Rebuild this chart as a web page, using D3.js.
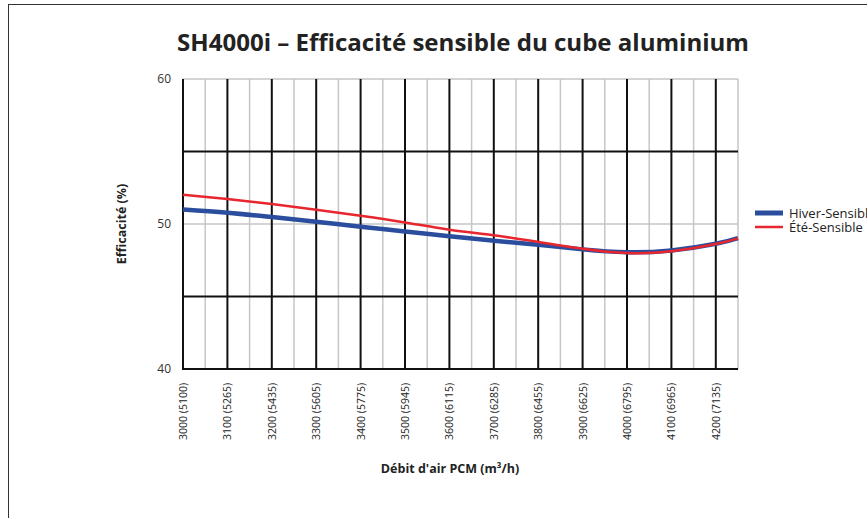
<!DOCTYPE html>
<html>
<head>
<meta charset="utf-8">
<script src="https://cdn.jsdelivr.net/npm/d3@7"></script>
<style>
  body { margin: 0; background: #fff; overflow: hidden; }
  svg { display: block; font-family: "Open Sans", "Liberation Sans", sans-serif; }
</style>
</head>
<body>
<svg id="chart" width="867" height="518"></svg>
<script>
// airflow (CFM) at which the curves were read, last point is the right edge of the plot
const flowCfm = [3000, 3100, 3200, 3300, 3400, 3500, 3600, 3700, 3800, 3900, 4000, 4100, 4200, 4250];
const hiverSensible = [51.0, 50.78, 50.48, 50.16, 49.81, 49.49, 49.15, 48.85, 48.57, 48.25, 48.05, 48.18, 48.64, 49.03];
const eteSensible  = [52.02, 51.72, 51.38, 50.99, 50.57, 50.11, 49.61, 49.22, 48.76, 48.30, 48.00, 48.12, 48.62, 49.01];
// tick labels: CFM (m3/h)
const tickCfm = [3000, 3100, 3200, 3300, 3400, 3500, 3600, 3700, 3800, 3900, 4000, 4100, 4200];
const tickM3h = [5100, 5265, 5435, 5605, 5775, 5945, 6115, 6285, 6455, 6625, 6795, 6965, 7135];
const yTicks = [40, 50, 60];
const seriesNames = ["Hiver-Sensible", "Été-Sensible"];
const seriesColors = ["#2b4d9e", "#e8262e"];

const svg = d3.select('#chart');

// outer frame (runs off the page on the right and bottom)
svg.append('rect')
  .attr('x', 8.5).attr('y', 4.5)
  .attr('width', 950).attr('height', 600)
  .style('fill', 'none')
  .style('stroke', '#333')
  .style('stroke-width', 1);

const x = d3.scaleLinear().domain([3000, 4250]).range([183, 738]);
const y = d3.scaleLinear().domain([40, 60]).range([369, 79]);

// light grid first
const gray = svg.append('g').attr('class', 'grid-minor');
gray.selectAll('line.v')
  .data(d3.range(3050, 4300, 100))
  .enter().append('line')
    .attr('x1', d => x(d)).attr('x2', d => x(d))
    .attr('y1', y(60)).attr('y2', y(40))
    .style('stroke', '#c6c6c6').style('stroke-width', 1.5);
gray.selectAll('line.h')
  .data([50, 60])
  .enter().append('line')
    .attr('x1', x(3000)).attr('x2', x(4250))
    .attr('y1', d => y(d)).attr('y2', d => y(d))
    .style('stroke', '#c6c6c6').style('stroke-width', 1.5);

// dark grid
const dark = svg.append('g').attr('class', 'grid-major');
dark.selectAll('line.v')
  .data(tickCfm)
  .enter().append('line')
    .attr('x1', d => x(d)).attr('x2', d => x(d))
    .attr('y1', y(60)).attr('y2', y(40))
    .style('stroke', '#111').style('stroke-width', 2);
dark.selectAll('line.h')
  .data([40, 45, 55])
  .enter().append('line')
    .attr('x1', x(3000) - 1).attr('x2', x(4250))
    .attr('y1', d => y(d)).attr('y2', d => y(d))
    .style('stroke', '#111').style('stroke-width', 2);

// y tick labels
svg.append('g')
  .selectAll('text')
  .data(yTicks)
  .enter().append('text')
    .attr('x', 171)
    .attr('y', d => y(d) + 4)
    .attr('text-anchor', 'end')
    .style('font-size', '12px')
    .style('fill', '#333')
    .text(d => d);

// x tick labels, rotated
svg.append('g')
  .selectAll('text')
  .data(tickCfm)
  .enter().append('text')
    .attr('transform', d => `translate(${x(d) + 4},383) rotate(-90)`)
    .attr('text-anchor', 'end')
    .style('font-size', '10.5px')
    .style('fill', '#222')
    .text((d, i) => `${d} (${tickM3h[i]})`);

// curves
const line = d3.line()
  .x((d, i) => x(flowCfm[i]))
  .y(d => y(d))
  .curve(d3.curveNatural);

svg.append('path')
  .datum(hiverSensible)
  .attr('d', line)
  .style('fill', 'none')
  .style('stroke', seriesColors[0])
  .style('stroke-width', 4.5);

svg.append('path')
  .datum(eteSensible)
  .attr('d', line)
  .style('fill', 'none')
  .style('stroke', seriesColors[1])
  .style('stroke-width', 2.5);

// titles
svg.append('text')
  .attr('x', 463).attr('y', 51)
  .attr('text-anchor', 'middle')
  .attr('textLength', 572)
  .attr('lengthAdjust', 'spacingAndGlyphs')
  .style('font-size', '24px')
  .style('font-weight', 'bold')
  .style('fill', '#222')
  .text('SH4000i \u2013 Efficacité sensible du cube aluminium');

svg.append('text')
  .attr('transform', 'translate(126,224) rotate(-90)')
  .attr('text-anchor', 'middle')
  .style('font-size', '12.5px')
  .style('font-weight', 'bold')
  .style('fill', '#222')
  .text('Efficacité (%)');

svg.append('text')
  .attr('x', 450).attr('y', 473)
  .attr('text-anchor', 'middle')
  .style('font-size', '12.5px')
  .style('font-weight', 'bold')
  .style('fill', '#222')
  .text("Débit d'air PCM (m\u00b3/h)");

// legend
const legend = svg.append('g')
  .selectAll('g')
  .data(seriesNames)
  .enter().append('g')
    .attr('transform', (d, i) => `translate(755,${213 + i * 14})`);
legend.append('line')
  .attr('x1', 0).attr('x2', 28)
  .style('stroke', (d, i) => seriesColors[i])
  .style('stroke-width', (d, i) => i === 0 ? 5 : 2.5);
legend.append('text')
  .attr('x', 34).attr('y', 4.5)
  .style('font-size', '13px')
  .style('fill', '#222')
  .text(d => d);
</script>
</body>
</html>
